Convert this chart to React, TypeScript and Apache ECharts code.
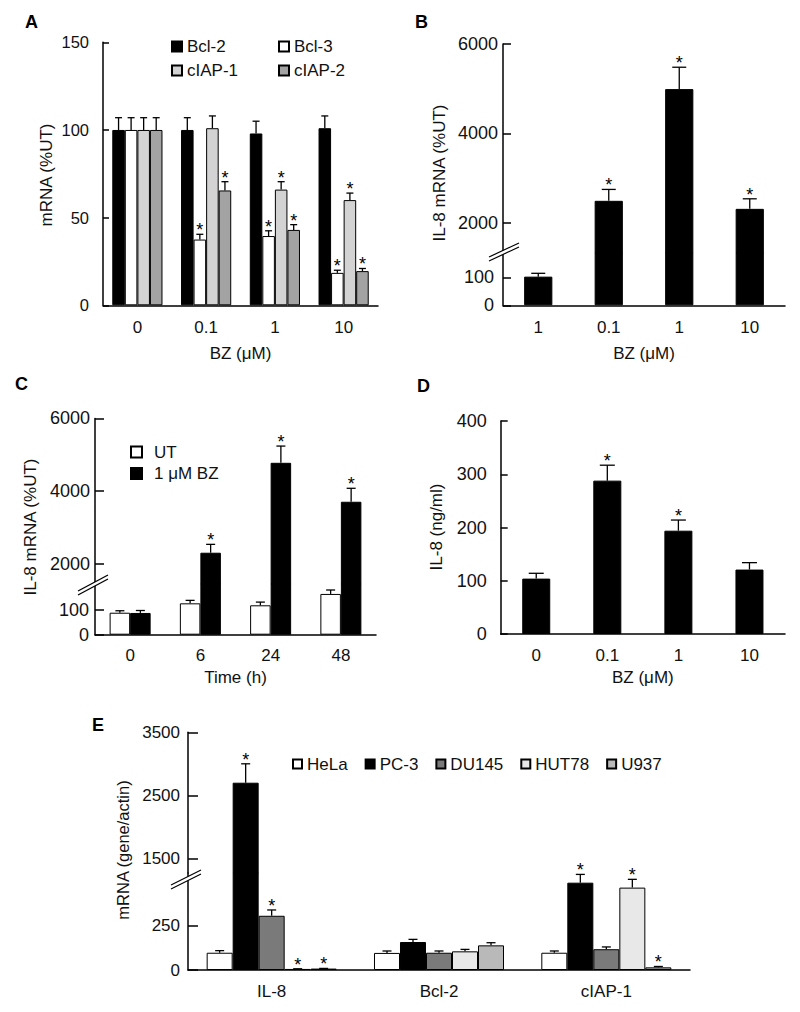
import React, { useEffect, useRef } from "react";
import * as echarts from "echarts";

// ---------- Panel A ----------
const doseCats = ["0", "0.1", "1", "10"];
const aBcl2 = [100, 100, 98, 101];
const aBcl2Err = [7, 7, 7, 7];
const aBcl2Star = [0, 0, 0, 0];
const aBcl3 = [100, 37.5, 39.5, 18.5];
const aBcl3Err = [7, 3, 3, 1.5];
const aBcl3Star = [0, 1, 1, 1];
const aCiap1 = [100, 101, 66, 60];
const aCiap1Err = [7, 7, 4.5, 4];
const aCiap1Star = [0, 0, 1, 1];
const aCiap2 = [100, 65.5, 43, 19.5];
const aCiap2Err = [7, 5, 3, 1.5];
const aCiap2Star = [0, 1, 1, 1];
const aTicks = [0, 50, 100, 150];

// ---------- Panel B ----------
const bCats = ["1", "0.1", "1", "10"];
const bIL8 = [103, 2490, 4990, 2310];
const bIL8Err = [12, 255, 490, 225];
const bIL8Star = [0, 1, 1, 1];
const bUpperTicks = [2000, 4000, 6000];
const bLowerTicks = [0, 100];

// ---------- Panel C ----------
const timeCats = ["0", "6", "24", "48"];
const cUT = [89, 127, 119, 165];
const cUTErr = [8, 12, 13, 16];
const cUTStar = [0, 0, 0, 0];
const cBZ = [88, 2310, 4780, 3710];
const cBZErr = [10, 230, 460, 370];
const cBZStar = [0, 1, 1, 1];
const cUpperTicks = [2000, 4000, 6000];
const cLowerTicks = [0, 100];

// ---------- Panel D ----------
const dIL8 = [104, 288, 194, 121];
const dIL8Err = [10, 29, 20, 13];
const dIL8Star = [0, 1, 1, 0];
const dTicks = [0, 100, 200, 300, 400];

// ---------- Panel E ----------
const geneCats = ["IL-8", "Bcl-2", "cIAP-1"];
const eHeLa = [98, 97, 98];
const eHeLaErr = [12, 11, 10];
const eHeLaStar = [0, 0, 0];
const ePC3 = [2700, 159, 496];
const ePC3Err = [300, 15, 47];
const ePC3Star = [1, 0, 1];
const eDU145 = [308, 98, 118];
const eDU145Err = [33, 10, 13];
const eDU145Star = [1, 0, 0];
const eHUT78 = [6, 106, 468];
const eHUT78Err = [1, 11, 47];
const eHUT78Star = [1, 0, 1];
const eU937 = [8, 140, 15];
const eU937Err = [1, 15, 5];
const eU937Star = [1, 0, 1];
const eUpperTicks = [1500, 2500, 3500];
const eLowerTicks = [0, 250];

const FONT = "'Liberation Sans', Arial, Helvetica, sans-serif";
const INK = "#111";

function catAxis(gridIndex: number, data: string[], show: boolean, margin: number, name?: string, nameGap?: number) {
  return {
    type: "category",
    gridIndex,
    data,
    show,
    axisLine: { show: true, lineStyle: { color: "#000", width: 1.5 } },
    axisTick: { show: false },
    axisLabel: { fontSize: 17, color: INK, margin, fontFamily: FONT, interval: 0 },
    name: name || "",
    nameLocation: "middle",
    nameGap: nameGap || 0,
    nameMoveOverlap: false,
    nameTextStyle: { fontSize: 17, color: INK, fontFamily: FONT },
  };
}

function valAxis(gridIndex: number, min: number, max: number, ticks: number[], margin: number, tickLen: number, fontSize = 18) {
  return {
    type: "value",
    gridIndex,
    min,
    max,
    axisLine: { show: true, lineStyle: { color: "#000", width: 1.5 } },
    axisTick: { show: true, inside: true, length: tickLen, customValues: ticks, lineStyle: { color: "#000", width: 1.5 } },
    axisLabel: {
      show: true,
      customValues: ticks,
      fontSize,
      color: INK,
      margin,
      fontFamily: FONT,
      formatter: (v: number) => String(v),
    },
    splitLine: { show: false },
  };
}

function bars(name: string, xi: number, data: (number | string)[], color: string, gap: number) {
  return {
    type: "bar",
    name,
    xAxisIndex: xi,
    yAxisIndex: xi,
    data,
    barGap: "0%",
    barCategoryGap: gap * 100 + "%",
    itemStyle: { color, borderColor: "#000", borderWidth: 1 },
    clip: true,
    silent: true,
    z: 2,
  };
}

function errs(
  xi: number,
  values: number[],
  er: number[],
  stars: number[],
  idx: number,
  n: number,
  gap: number,
  cap: number,
  lo: number,
  hi: number
) {
  const data = values
    .map((v, i) => [i, v, er[i], stars[i]])
    .filter((d) => d[1] >= lo && d[1] + d[2] <= hi);
  return {
    type: "custom",
    name: "err" + xi + "_" + idx,
    xAxisIndex: xi,
    yAxisIndex: xi,
    data,
    encode: { x: 0, y: 1 },
    silent: true,
    z: 5,
    renderItem: (_p: any, api: any) => {
      const ci = api.value(0);
      const v = api.value(1);
      const e = api.value(2);
      const s = api.value(3);
      const band = api.size([1, 0])[0];
      const gw = band * (1 - gap);
      const bw = gw / n;
      const p0 = api.coord([ci, v]);
      const p1 = api.coord([ci, v + e]);
      const x = p0[0] - gw / 2 + bw * (idx + 0.5);
      const st = { stroke: "#000", lineWidth: 1.3 };
      const children: any[] = [
        { type: "line", shape: { x1: x, y1: p0[1], x2: x, y2: p1[1] }, style: st },
        { type: "line", shape: { x1: x - cap / 2, y1: p1[1], x2: x + cap / 2, y2: p1[1] }, style: st },
      ];
      if (s) {
        children.push({
          type: "text",
          x,
          y: p1[1] - 4,
          style: {
            text: "*",
            fontSize: 18,
            fontFamily: FONT,
            fill: "#000",
            align: "center",
            verticalAlign: "middle",
            textAlign: "center",
            textVerticalAlign: "middle",
          },
        });
      }
      return { type: "group", children };
    },
  };
}

function upperOnly(values: number[], min: number) {
  return values.map((v) => (v >= min ? v : "-"));
}

function buildOption() {
  // axis ranges of the broken panels
  const B_UMIN = 1322, B_UMAX = 6000, B_LMAX = 188;
  const C_UMIN = 1451, C_UMAX = 6000, C_LMAX = 205.3;
  const E_UMIN = 1267, E_UMAX = 3500, E_LMAX = 551;

  const gA = 0.27, gB = 0.6, gC = 0.416, gD = 0.606, gE = 0.223;

  const grid = [
    { left: 103, top: 42.3, width: 275, height: 263 },
    { left: 503, top: 44, width: 282, height: 209 },
    { left: 503, top: 253, width: 282, height: 52.3 },
    { left: 95, top: 418.4, width: 281, height: 165.6 },
    { left: 95, top: 584, width: 281, height: 50.7 },
    { left: 500.7, top: 421, width: 284.3, height: 213 },
    { left: 188, top: 732.3, width: 502, height: 140.7 },
    { left: 188, top: 873, width: 502, height: 97 },
  ].map((g) => ({ ...g, containLabel: false, outerBoundsMode: "none" }));

  const xAxis = [
    catAxis(0, doseCats, true, 14, "BZ (μM)", 40),
    catAxis(1, bCats, false, 14),
    catAxis(2, bCats, true, 14, "BZ (μM)", 39.5),
    catAxis(3, timeCats, false, 12),
    catAxis(4, timeCats, true, 12, "Time (h)", 34),
    catAxis(5, doseCats, true, 12.5, "BZ (μM)", 34.5),
    catAxis(6, geneCats, false, 13),
    catAxis(7, geneCats, true, 13),
  ];

  const yAxis = [
    valAxis(0, 0, 150, aTicks, 14, 6, 16.5),
    valAxis(1, B_UMIN, B_UMAX, bUpperTicks, 5, 8),
    valAxis(2, 0, B_LMAX, bLowerTicks, 9, 8),
    valAxis(3, C_UMIN, C_UMAX, cUpperTicks, 5, 9),
    valAxis(4, 0, C_LMAX, cLowerTicks, 6, 9),
    valAxis(5, 0, 400, dTicks, 14, 7),
    valAxis(6, E_UMIN, E_UMAX, eUpperTicks, 8, 10, 17),
    valAxis(7, 0, E_LMAX, eLowerTicks, 8, 10, 17),
  ];

  const series: any[] = [];
  // A
  const aSets = [
    ["Bcl-2", aBcl2, aBcl2Err, aBcl2Star, "#000000"],
    ["Bcl-3", aBcl3, aBcl3Err, aBcl3Star, "#ffffff"],
    ["cIAP-1", aCiap1, aCiap1Err, aCiap1Star, "#d3d3d3"],
    ["cIAP-2", aCiap2, aCiap2Err, aCiap2Star, "#a3a3a3"],
  ] as any[];
  aSets.forEach((s, i) => {
    series.push(bars(s[0], 0, s[1], s[4], gA));
    series.push(errs(0, s[1], s[2], s[3], i, 4, gA, 7, 0, 150));
  });
  // B
  series.push(bars("IL-8 B", 1, upperOnly(bIL8, B_UMIN), "#000", gB));
  series.push(bars("IL-8 B", 2, bIL8, "#000", gB));
  series.push(errs(1, bIL8, bIL8Err, bIL8Star, 0, 1, gB, 14, B_UMIN, B_UMAX));
  series.push(errs(2, bIL8, bIL8Err, bIL8Star, 0, 1, gB, 14, 0, B_LMAX));
  // C
  const cSets = [
    ["UT", cUT, cUTErr, cUTStar, "#ffffff"],
    ["1 μM BZ", cBZ, cBZErr, cBZStar, "#000000"],
  ] as any[];
  cSets.forEach((s, i) => {
    series.push(bars(s[0], 3, upperOnly(s[1], C_UMIN), s[4], gC));
    series.push(bars(s[0], 4, s[1], s[4], gC));
    series.push(errs(3, s[1], s[2], s[3], i, 2, gC, 9, C_UMIN, C_UMAX));
    series.push(errs(4, s[1], s[2], s[3], i, 2, gC, 9, 0, C_LMAX));
  });
  // D
  series.push(bars("IL-8 D", 5, dIL8, "#000", gD));
  series.push(errs(5, dIL8, dIL8Err, dIL8Star, 0, 1, gD, 15, 0, 400));
  // E
  const eSets = [
    ["HeLa", eHeLa, eHeLaErr, eHeLaStar, "#ffffff"],
    ["PC-3", ePC3, ePC3Err, ePC3Star, "#000000"],
    ["DU145", eDU145, eDU145Err, eDU145Star, "#7a7a7a"],
    ["HUT78", eHUT78, eHUT78Err, eHUT78Star, "#e8e8e8"],
    ["U937", eU937, eU937Err, eU937Star, "#b9b9b9"],
  ] as any[];
  eSets.forEach((s, i) => {
    series.push(bars(s[0], 6, upperOnly(s[1], E_UMIN), s[4], gE));
    series.push(bars(s[0], 7, s[1], s[4], gE));
    series.push(errs(6, s[1], s[2], s[3], i, 5, gE, 9, E_UMIN, E_UMAX));
    series.push(errs(7, s[1], s[2], s[3], i, 5, gE, 9, 0, E_LMAX));
  });

  const legendBase = {
    icon: "rect",
    padding: 0,
    selectedMode: false,
    textStyle: { fontSize: 17, color: INK, fontFamily: FONT },
  };
  const legend = [
    { ...legendBase, data: ["Bcl-2", "cIAP-1"], orient: "vertical", left: 171, top: 38, itemWidth: 10, itemHeight: 10, itemGap: 7 },
    { ...legendBase, data: ["Bcl-3", "cIAP-2"], orient: "vertical", left: 278, top: 38, itemWidth: 10, itemHeight: 10, itemGap: 7 },
    {
      ...legendBase,
      data: ["UT", "1 μM BZ"],
      orient: "vertical",
      left: 130,
      top: 443.5,
      itemWidth: 11,
      itemHeight: 11,
      itemGap: 4.5,
      textStyle: { fontSize: 17, color: INK, fontFamily: FONT, padding: [0, 0, 0, 7] },
    },
    { ...legendBase, data: ["HeLa", "PC-3", "DU145", "HUT78", "U937"], orient: "horizontal", left: 292, top: 755.5, itemWidth: 9, itemHeight: 9, itemGap: 17 },
  ];

  const letter = (t: string, x: number, y: number) => ({
    type: "text",
    x,
    y,
    style: { text: t, fontSize: 18, fontWeight: "bold", fontFamily: FONT, fill: "#000", textVerticalAlign: "middle", verticalAlign: "middle" },
  });
  const ytitle = (t: string, x: number, y: number, size = 17) => ({
    type: "text",
    x,
    y,
    rotation: Math.PI / 2,
    style: { text: t, fontSize: size, fontFamily: FONT, fill: INK, align: "center", textAlign: "center", verticalAlign: "middle", textVerticalAlign: "middle" },
  });
  const brk = (x1: number, y1: number, x2: number, y2: number, d: number) => [
    {
      type: "polygon",
      z: 100,
      shape: { points: [[x1, y1], [x2, y2], [x2, y2 + d], [x1, y1 + d]] },
      style: { fill: "#fff", stroke: null },
    },
    { type: "line", z: 101, shape: { x1, y1, x2, y2 }, style: { stroke: "#000", lineWidth: 1.2 } },
    { type: "line", z: 101, shape: { x1, y1: y1 + d, x2, y2: y2 + d }, style: { stroke: "#000", lineWidth: 1.2 } },
  ];

  const graphic = {
    elements: [
      letter("A", 25, 21.5),
      letter("B", 415, 21.5),
      letter("C", 15, 384),
      letter("D", 417, 386),
      letter("E", 92, 725),
      ytitle("mRNA (%UT)", 46.7, 175),
      ytitle("IL-8 mRNA (%UT)", 439, 173),
      ytitle("IL-8 mRNA (%UT)", 30, 527),
      ytitle("IL-8 (ng/ml)", 436.7, 527),
      ytitle("mRNA (gene/actin)", 122.5, 850, 16.5),
      ...brk(489, 257, 519, 243, 4),
      ...brk(78, 591, 108, 575, 4),
      ...brk(171, 885, 201, 870, 4),
    ],
  };

  return {
    animation: false,
    backgroundColor: "#fff",
    textStyle: { fontFamily: FONT, color: INK },
    grid,
    xAxis,
    yAxis,
    legend,
    series,
    graphic,
  };
}

export default function App() {
  const ref = useRef<HTMLDivElement>(null);
  useEffect(() => {
    document.body.style.margin = "0";
    if (!ref.current) return;
    const chart = echarts.init(ref.current, undefined, { renderer: "svg" });
    chart.setOption(buildOption() as any);
    return () => chart.dispose();
  }, []);
  return <div ref={ref} style={{ width: 800, height: 1012 }} />;
}
